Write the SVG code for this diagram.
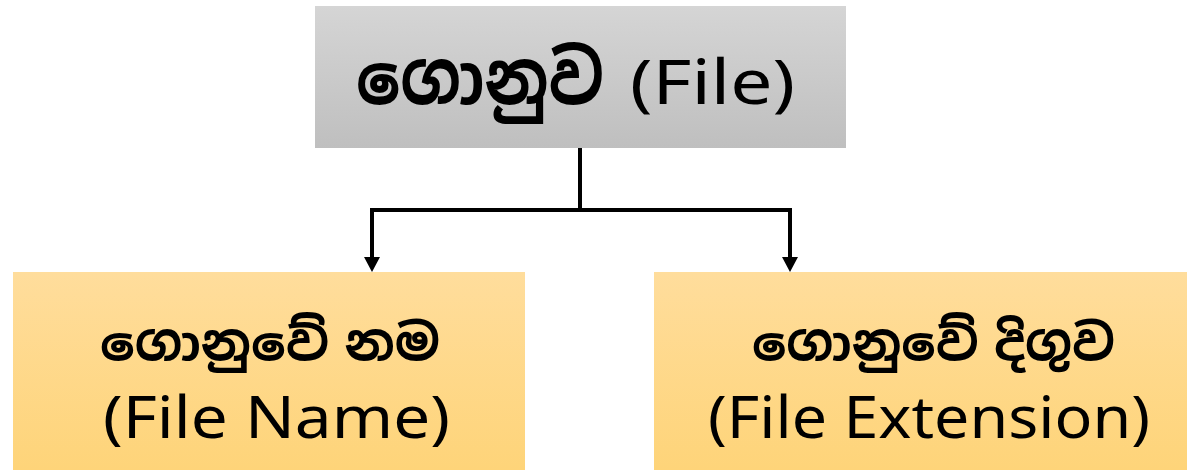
<svg xmlns="http://www.w3.org/2000/svg" width="1191" height="472" viewBox="0 0 1191 472">
  <style>
    .si { font-family: "Noto Sans Sinhala", "Iskoola Pota", "Noto Sans", sans-serif; font-weight: bold; fill: #000; }
    .en { font-family: "Noto Sans", "DejaVu Sans", sans-serif; fill: #000; }
    .conn { fill: none; stroke: #000; stroke-width: 4; }
  </style>
  <defs>
    <linearGradient id="grayFill" x1="0" y1="0" x2="0" y2="1">
      <stop offset="0" stop-color="#d5d5d5"/>
      <stop offset="1" stop-color="#bfbfbf"/>
    </linearGradient>
    <linearGradient id="goldFill" x1="0" y1="0" x2="0" y2="1">
      <stop offset="0" stop-color="#ffdd9c"/>
      <stop offset="1" stop-color="#fed479"/>
    </linearGradient>
    <marker id="arrow" markerWidth="16" markerHeight="16" refX="0" refY="8" orient="auto" markerUnits="userSpaceOnUse">
      <path d="M0,0 L15,8 L0,16 Z" fill="#000"/>
    </marker>
  </defs>

  <rect width="1191" height="472" fill="#fff"/>

  <g id="connectors">
    <path class="conn" d="M580,148 V210"/>
    <path class="conn" d="M580,210 H372 V257" marker-end="url(#arrow)"/>
    <path class="conn" d="M580,210 H790 V257" marker-end="url(#arrow)"/>
  </g>

  <g id="file">
    <rect x="315" y="6" width="531" height="142" fill="url(#grayFill)"/>
    <text class="si" x="356" y="104" font-size="74" textLength="248" lengthAdjust="spacingAndGlyphs">ගොනුව</text>
    <text class="en" x="630" y="104" font-size="62" textLength="165" lengthAdjust="spacingAndGlyphs">(File)</text>
  </g>

  <g id="file-name">
    <rect x="13" y="272" width="512" height="198" fill="url(#goldFill)"/>
    <text class="si" x="100" y="360" font-size="50" word-spacing="-10" textLength="340" lengthAdjust="spacingAndGlyphs">ගොනුවේ නම</text>
    <text class="en" x="103" y="438" font-size="58" textLength="347" lengthAdjust="spacingAndGlyphs">(File Name)</text>
  </g>

  <g id="file-extension">
    <rect x="654" y="272" width="533" height="198" fill="url(#goldFill)"/>
    <text class="si" x="752" y="360" font-size="50" word-spacing="-10" textLength="363" lengthAdjust="spacingAndGlyphs">ගොනුවේ දිගුව</text>
    <text class="en" x="708" y="438" font-size="58" textLength="442" lengthAdjust="spacingAndGlyphs">(File Extension)</text>
  </g>
</svg>
